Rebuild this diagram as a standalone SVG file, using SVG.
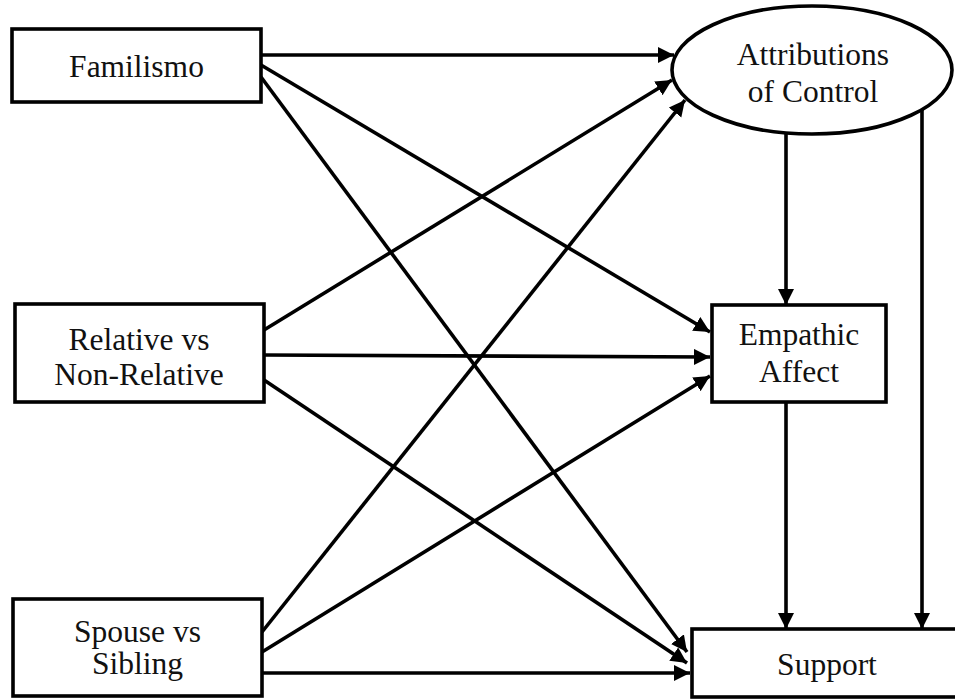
<svg xmlns="http://www.w3.org/2000/svg" width="955" height="700" viewBox="0 0 955 700">
  <style>
    .box { fill: #fff; stroke: #000; stroke-width: 3.6; }
    .lbl { font-family: "Liberation Serif", "Times New Roman", serif; font-size: 31.5px; fill: #111; text-anchor: middle; }
    .edge { stroke: #000; stroke-width: 3.6; fill: none; marker-end: url(#arrow); }
  </style>
  <defs>
    <marker id="arrow" markerUnits="userSpaceOnUse" markerWidth="18" markerHeight="18" refX="16" refY="8" orient="auto">
      <path d="M0,0 L16,8 L0,16 z" fill="#000"/>
    </marker>
  </defs>
  <rect width="955" height="700" fill="#fff"/>

  <g id="connectors">
    <line class="edge" x1="261" y1="55" x2="674" y2="55"/>
    <line class="edge" x1="261" y1="65" x2="710" y2="332"/>
    <line class="edge" x1="261" y1="77" x2="687" y2="652"/>
    <line class="edge" x1="264" y1="330" x2="672" y2="80"/>
    <line class="edge" x1="264" y1="355" x2="710" y2="357"/>
    <line class="edge" x1="264" y1="380" x2="687" y2="663"/>
    <line class="edge" x1="262" y1="632" x2="685" y2="100"/>
    <line class="edge" x1="262" y1="652" x2="710" y2="376"/>
    <line class="edge" x1="262" y1="673" x2="690" y2="673"/>
    <line class="edge" x1="786" y1="134" x2="786" y2="305"/>
    <line class="edge" x1="922" y1="110" x2="922" y2="629"/>
    <line class="edge" x1="786" y1="402" x2="786" y2="629"/>
  </g>

  <g id="familismo">
    <rect class="box" x="12" y="29" width="249" height="73"/>
    <text class="lbl" x="136.5" y="77">Familismo</text>
  </g>

  <g id="relative">
    <rect class="box" x="15" y="304" width="249" height="98"/>
    <text class="lbl" x="139" y="350">Relative vs</text>
    <text class="lbl" x="139" y="385">Non-Relative</text>
  </g>

  <g id="spouse">
    <rect class="box" x="13" y="599" width="249" height="97"/>
    <text class="lbl" x="137.5" y="642">Spouse vs</text>
    <text class="lbl" x="137.5" y="674">Sibling</text>
  </g>

  <g id="attributions">
    <ellipse class="box" cx="812" cy="70" rx="140" ry="64"/>
    <text class="lbl" x="813" y="65">Attributions</text>
    <text class="lbl" x="813" y="102">of Control</text>
  </g>

  <g id="empathic">
    <rect class="box" x="712" y="305" width="174" height="97"/>
    <text class="lbl" x="799" y="345">Empathic</text>
    <text class="lbl" x="799" y="382">Affect</text>
  </g>

  <g id="support">
    <rect class="box" x="692" y="629" width="275" height="68"/>
    <text class="lbl" x="827" y="675">Support</text>
  </g>
</svg>
